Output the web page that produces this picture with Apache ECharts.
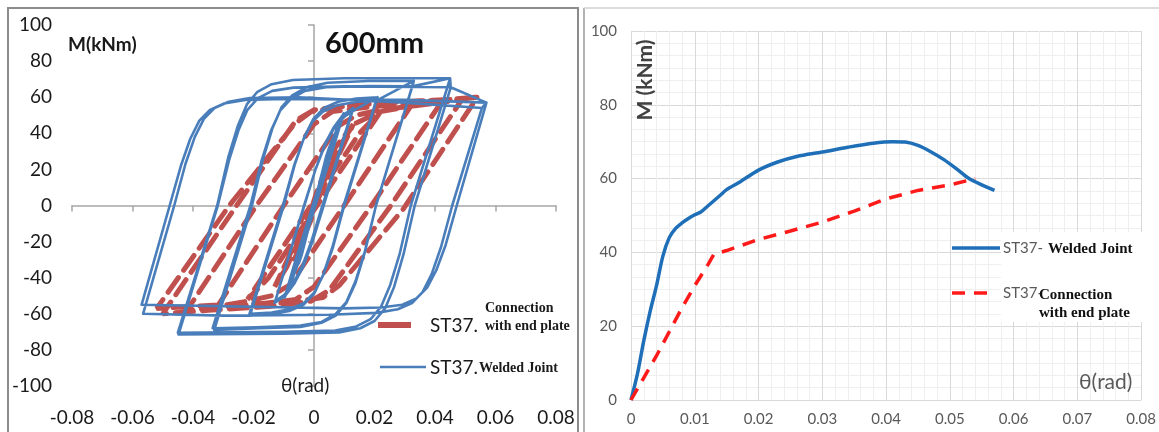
<!DOCTYPE html>
<html><head><meta charset="utf-8">
<script src="https://cdn.jsdelivr.net/npm/echarts@6/dist/echarts.min.js"></script>
<style>html,body{margin:0;padding:0;background:#fff}#c{width:1159px;height:432px}</style>
</head><body><div id="c"></div>
<script>
// ---------- tick values ----------
const leftThetaTicks = [-0.08,-0.06,-0.04,-0.02,0,0.02,0.04,0.06,0.08];
const leftMomentTicks = [-100,-80,-60,-40,-20,0,20,40,60,80,100];
const rightThetaTicks = [0,0.01,0.02,0.03,0.04,0.05,0.06,0.07,0.08];
const rightMomentTicks = [0,20,40,60,80,100];

// ---------- left panel: hysteresis, ST37 connection with end plate (red dashed) ----------
const plateCycle1 = [[0,0],[0.007,32],[0.001,8],[-0.005,-24],[-0.007,-32],[-0.001,-8],[0.005,24],[0.007,32]];
const plateCycle2 = [[0.013,45],[0.002,6],[-0.009,-34],[-0.013,-45],[-0.002,-6],[0.009,34],[0.013,45]];
const plateCycle3 = [[0.022,52],[0.001,0],[-0.015,-40],[-0.019,-47],[-0.022,-52],[-0.001,0],[0.015,40],[0.019,47],[0.022,52]];
const plateCycle4 = [[0.032,55],[0.010,0],[-0.008,-44],[-0.014,-50],[-0.022,-53],[-0.032,-56],[-0.010,0],[0.008,44],[0.014,50],[0.022,53],[0.032,55]];
const plateCycle5 = [[0.042,57],[0.019,0],[0.0,-45],[-0.006,-52],[-0.02,-55],[-0.042,-58],[-0.019,0],[0.0,45],[0.006,52],[0.02,55],[0.042,57]];
const plateCycle6 = [[0.049,59],[0.025,-1],[0.005,-47],[-0.001,-53],[-0.015,-56],[-0.035,-58],[-0.05,-60],[-0.026,-1],[-0.006,47],[0.0,53],[0.015,56],[0.035,58],[0.049,59]];
const plateCycle7 = [[0.054,60],[0.0295,-2],[0.0085,-44],[0.003,-51],[-0.01,-54],[-0.03,-55],[-0.052,-57],[-0.028,0],[-0.0065,45],[-0.001,52],[0.01,55],[0.03,57],[0.054,60]];

// ---------- left panel: hysteresis, ST37 welded joint (blue) ----------
const weldCycle1 = [[0,0],[0.003,20],[0.0015,9],[-0.0025,-17],[-0.003,-20],[-0.0015,-9],[0.0025,17],[0.003,20]];
const weldCycle2 = [[0.005,32],[0.003,19],[-0.004,-27],[-0.005,-32],[-0.003,-19],[0.004,27],[0.005,32]];
const weldCycle2b = [[0.0062,37],[0.0038,22],[-0.0052,-32],[-0.0063,-37],[-0.0039,-22],[0.0051,32],[0.0062,37]];
const weldCycle3 = [[0.0075,42],[0.0048,26],[-0.0065,-37],[-0.0075,-42],[-0.0048,-26],[0.0065,37],[0.0075,42]];
const weldCycle3b = [[0.0082,45],[0.0052,28],[-0.007,-40],[-0.0083,-45],[-0.0053,-28],[0.007,40],[0.0082,45]];
const weldCycle4 = [[0.0095,50],[0.0062,32],[-0.008,-44],[-0.0095,-50],[-0.0062,-32],[0.008,44],[0.0095,50]];
const weldCycle5 = [[0.0092,48],[0.0058,30],[-0.0083,-45],[-0.0093,-49],[-0.0058,-30],[0.0083,44],[0.0092,48]];
const weldCycle5b = [[0.0098,51],[0.0066,33],[-0.0075,-43],[-0.0097,-51],[-0.0066,-33],[0.0076,43],[0.0098,51]];
const weldCycle5c = [[0.0088,47],[0.0055,29],[-0.0077,-42],[-0.0089,-48],[-0.0056,-29],[0.0078,42],[0.0088,47]];
const weldCycle6 = [[0.013,54],[0.0032,0],[-0.0005,-20],[-0.0036,-34],[-0.0066,-43.5],[-0.0095,-50],[-0.013,-54],[-0.0032,0],[0.0005,20],[0.0036,34],[0.0066,43.5],[0.0095,50],[0.013,54]];
const weldCycle7 = [[0.0125,52],[0.0028,0],[-0.0009,-20],[-0.004,-34],[-0.007,-43.5],[-0.0098,-49.5],[-0.0128,-53],[-0.0033,0],[0.0004,19.5],[0.0035,33],[0.0065,42.5],[0.0094,48.5],[0.0125,52]];
const weldCycle8 = [[0.021,60],[0.010,0],[0.0063,-23],[0.0032,-38],[0.0002,-48],[-0.0033,-54],[-0.008,-57.5],[-0.014,-59.3],[-0.021,-60],[-0.010,0],[-0.0063,23],[-0.0032,38],[-0.0002,48],[0.0033,54],[0.008,57.5],[0.014,59.3],[0.021,60]];
const weldCycle9 = [[0.0205,58],[0.0098,0],[0.0061,-23],[0.003,-38.5],[0,-49],[-0.0035,-55],[-0.0082,-58.5],[-0.0142,-60.3],[-0.0215,-61],[-0.0103,0],[-0.0066,22],[-0.0035,36.5],[-0.0005,46.5],[0.003,52],[0.0077,55.5],[0.0137,57.3],[0.0205,58]];
const weldCycle10 = [[0.033,69],[0.0205,0],[0.0168,-26],[0.0137,-43],[0.0107,-54],[0.0072,-61],[0.0025,-65],[-0.0045,-67.3],[-0.018,-68],[-0.033,-69],[-0.0205,0],[-0.0168,26],[-0.0137,43],[-0.0107,54.5],[-0.0072,61],[-0.0025,65.5],[0.0045,68],[0.018,69],[0.033,69]];
const weldCycle11 = [[0.0325,66],[0.0205,0],[0.0168,-25.5],[0.0137,-42],[0.0107,-53.5],[0.0072,-60],[0.0025,-64.5],[-0.0045,-66.5],[-0.019,-67.5],[-0.0335,-68],[-0.021,0],[-0.0173,25],[-0.0142,41.5],[-0.0112,52.5],[-0.0077,59],[-0.003,63.5],[0.004,65.5],[0.018,66.2],[0.0325,66]];
const weldCycle12 = [[0.045,70.5],[0.032,0],[0.0283,-27],[0.0252,-44],[0.0222,-56],[0.0187,-63],[0.014,-67],[0.007,-69.3],[-0.01,-70],[-0.045,-70.5],[-0.032,0],[-0.0283,27],[-0.0252,44],[-0.0222,56],[-0.0187,63],[-0.014,67.2],[-0.007,69.5],[0.01,70.5],[0.045,70.5]];
const weldCycle13 = [[0.0452,65.5],[0.0333,0],[0.0296,-27],[0.0265,-45],[0.0235,-57],[0.02,-64],[0.0153,-68],[0.0083,-70.3],[-0.01,-71],[-0.0448,-71.5],[-0.0318,0],[-0.0281,25],[-0.025,41.5],[-0.022,53],[-0.0185,59.5],[-0.0138,63.5],[-0.0068,65.3],[0.01,66],[0.0452,65.5]];
const weldCycle14 = [[0.057,57],[0.0472,0],[0.0435,-22],[0.0404,-36],[0.0374,-45.5],[0.0339,-51.5],[0.0292,-55],[0.0222,-56.5],[0.01,-57],[-0.057,-55],[-0.0477,0],[-0.044,22],[-0.0409,37],[-0.0379,47],[-0.0344,53],[-0.0297,56.5],[-0.0227,58.5],[-0.01,59],[0.03,58.5],[0.057,57]];
const weldCycle15 = [[0.0555,54],[0.0457,0],[0.042,-23],[0.0389,-38],[0.0359,-48],[0.0324,-54],[0.0277,-57.5],[0.0207,-59.5],[0.005,-60.5],[-0.03,-61],[-0.0565,-60],[-0.0462,0],[-0.0425,23],[-0.0394,38],[-0.0364,48],[-0.0329,54],[-0.0282,57.5],[-0.0212,59.5],[-0.005,60],[0.03,57],[0.0555,54]];

// ---------- right panel: envelope curves ----------
const weldTheta  = [0,0.001,0.002,0.003,0.004,0.005,0.006,0.007,0.008,0.009,0.010,0.011,0.012,0.013,0.014,0.015,0.017,0.020,0.023,0.026,0.030,0.034,0.038,0.041,0.043,0.045,0.047,0.049,0.051,0.053,0.055,0.057];
const weldMoment = [0,7,16,24,31,39,44,46.5,48,49.2,50.2,51,52.5,54,55.5,57,59,62.3,64.5,66,67.2,68.5,69.6,70,69.9,69,67.3,65.2,62.7,60,58.3,56.8];
const plateTheta  = [0,0.002,0.004,0.006,0.008,0.010,0.012,0.013,0.015,0.020,0.025,0.030,0.035,0.040,0.045,0.050,0.054];
const plateMoment = [0,6,12,18.5,25,31,36.5,39.5,40.5,43.5,45.8,48.2,51.2,54.5,56.8,58.3,60];

const plateLoops = [].concat(plateCycle1,plateCycle2,plateCycle3,plateCycle4,plateCycle5,plateCycle6,plateCycle7);
const weldLoops = [].concat(weldCycle1,weldCycle2,weldCycle2b,weldCycle3,weldCycle3b,weldCycle4,weldCycle5,weldCycle5b,weldCycle5c,weldCycle6,weldCycle7,weldCycle8,weldCycle9,weldCycle10,weldCycle11,weldCycle12,weldCycle13,weldCycle14,weldCycle15);
const weldEnvelope = weldTheta.map((t,i)=>[t,weldMoment[i]]);
const plateEnvelope = plateTheta.map((t,i)=>[t,plateMoment[i]]);

const FONT = 'Lato, "Liberation Sans", sans-serif';
const SERIF = '"Liberation Serif", "DejaVu Serif", serif';

function rng(t){return {min:t[0],max:t[t.length-1],interval:+(t[1]-t[0]).toFixed(6)};}

const chart = echarts.init(document.getElementById('c'), null, {renderer:'canvas'});
chart.setOption({
  animation:false,
  backgroundColor:'#fff',
  grid:[
    {left:72, top:25, width:484, height:361},
    {left:631, top:31, width:514, height:369}
  ],
  xAxis:[
    Object.assign({gridIndex:0,type:'value',position:'bottom',
      axisLine:{show:false,onZero:false},axisTick:{show:false},splitLine:{show:false},
      axisLabel:{fontSize:19,color:'#1a1a1a',margin:22,fontFamily:FONT}}, rng(leftThetaTicks)),
    Object.assign({gridIndex:0,type:'value',position:'bottom',
      axisLine:{show:true,onZero:true,lineStyle:{color:'#a6a6a6',width:1.5}},
      axisTick:{show:true,length:6,lineStyle:{color:'#a6a6a6',width:1.5}},
      splitLine:{show:false},axisLabel:{show:false}}, rng(leftThetaTicks)),
    Object.assign({gridIndex:1,type:'value',position:'bottom',
      axisLine:{show:false,onZero:false},axisTick:{show:false},
      splitLine:{show:true,lineStyle:{color:'#d9d9d9',width:1}},
      minorTick:{show:false,splitNumber:5},
      minorSplitLine:{show:true,lineStyle:{color:'#efefef',width:1}},
      axisLabel:{fontSize:15,color:'#595959',margin:12,fontFamily:FONT}}, rng(rightThetaTicks))
  ],
  yAxis:[
    Object.assign({gridIndex:0,type:'value',position:'left',
      axisLine:{show:false,onZero:false},axisTick:{show:false},splitLine:{show:false},
      axisLabel:{fontSize:19,color:'#1a1a1a',margin:20,fontFamily:FONT}}, rng(leftMomentTicks)),
    Object.assign({gridIndex:0,type:'value',position:'left',
      axisLine:{show:true,onZero:true,lineStyle:{color:'#a6a6a6',width:1.5}},
      axisTick:{show:true,length:6,lineStyle:{color:'#a6a6a6',width:1.5}},
      splitLine:{show:false},axisLabel:{show:false}}, rng(leftMomentTicks)),
    Object.assign({gridIndex:1,type:'value',position:'left',
      axisLine:{show:false,onZero:false},axisTick:{show:false},
      splitLine:{show:true,lineStyle:{color:'#d9d9d9',width:1}},
      minorTick:{show:false,splitNumber:6},
      minorSplitLine:{show:true,lineStyle:{color:'#efefef',width:1}},
      axisLabel:{fontSize:15,color:'#595959',margin:14,fontFamily:FONT}}, rng(rightMomentTicks))
  ],
  series:[
    {name:'ST37- Connection with end plate',type:'line',xAxisIndex:0,yAxisIndex:0,data:plateLoops,
      symbol:'none',lineStyle:{color:'#c0504d',width:5,type:[18,9],cap:'round'},z:2},
    {name:'ST37- Welded Joint',type:'line',xAxisIndex:0,yAxisIndex:0,data:weldLoops,
      symbol:'none',lineStyle:{color:'#4a7ebb',width:2.6,join:'round'},z:3},
    {name:'ST37- Welded Joint (envelope)',type:'line',xAxisIndex:2,yAxisIndex:2,data:weldEnvelope,
      symbol:'none',smooth:0.3,lineStyle:{color:'#1f6fb8',width:3.5},z:3},
    {name:'ST37- Connection with end plate (envelope)',type:'line',xAxisIndex:2,yAxisIndex:2,data:plateEnvelope,
      symbol:'none',lineStyle:{color:'#ff1a1a',width:3.5,type:[13,9]},z:3}
  ],
  graphic:[
    {type:'rect',shape:{x:8,y:8,width:570,height:440},style:{fill:'none',stroke:'#8c8c8c',lineWidth:2},z:20},
    {type:'line',shape:{x1:584,y1:8,x2:584,y2:432},style:{stroke:'#9a9a9a',lineWidth:1.5},z:20},
    {type:'line',shape:{x1:584,y1:8,x2:1159,y2:8},style:{stroke:'#d0d0d0',lineWidth:1.5},z:20},
    // left panel texts
    {type:'text',x:68,y:45,style:{text:'M(kNm)',font:'bold 19px '+FONT,fill:'#1a1a1a',textVerticalAlign:'middle'},z:20},
    {type:'text',x:325,y:44,style:{text:'600mm',font:'bold 29px '+FONT,fill:'#111',textVerticalAlign:'middle'},z:20},
    {type:'text',x:281,y:386,style:{text:'θ(rad)',font:'19px '+FONT,fill:'#1a1a1a',textVerticalAlign:'middle'},z:20},
    // left legend
    {type:'line',shape:{x1:378,y1:325,x2:411,y2:325},style:{stroke:'#c0504d',lineWidth:6},z:20},
    {type:'text',x:430,y:326,style:{text:'ST37.',font:'19px '+FONT,fill:'#1a1a1a',textVerticalAlign:'middle'},z:20},
    {type:'text',x:485,y:308,style:{text:'Connection',font:'bold 14px '+SERIF,fill:'#1a1a1a',textVerticalAlign:'middle'},z:20},
    {type:'text',x:485,y:326,style:{text:'with end plate',font:'bold 14px '+SERIF,fill:'#1a1a1a',textVerticalAlign:'middle'},z:20},
    {type:'line',shape:{x1:380,y1:367,x2:426,y2:367},style:{stroke:'#4a7ebb',lineWidth:2.5},z:20},
    {type:'text',x:430,y:368,style:{text:'ST37.',font:'19px '+FONT,fill:'#1a1a1a',textVerticalAlign:'middle'},z:20},
    {type:'text',x:479,y:368,style:{text:'Welded Joint',font:'bold 14px '+SERIF,fill:'#1a1a1a',textVerticalAlign:'middle'},z:20},
    // right panel texts
    {type:'text',x:645,y:80,rotation:Math.PI/2,style:{text:'M (kNm)',font:'bold 21px '+FONT,fill:'#404040',textAlign:'center',textVerticalAlign:'middle'},z:20},
    {type:'text',x:1079,y:382,style:{text:'θ(rad)',font:'21px '+FONT,fill:'#595959',textVerticalAlign:'middle'},z:20},
    // right legend
    {type:'rect',shape:{x:1001,y:232,width:144,height:90},style:{fill:'#fff'},z:15},
    {type:'line',shape:{x1:952,y1:248,x2:1000,y2:248},style:{stroke:'#1f6fb8',lineWidth:3.5},z:20},
    {type:'text',x:1003,y:248,style:{text:'ST37-',font:'15px '+FONT,fill:'#595959',textVerticalAlign:'middle'},z:20},
    {type:'text',x:1048,y:249,style:{text:'Welded Joint',font:'bold 15px '+SERIF,fill:'#111',textVerticalAlign:'middle'},z:20},
    {type:'line',shape:{x1:952,y1:293,x2:990,y2:293},style:{stroke:'#ff1a1a',lineWidth:3.5,lineDash:[13,9]},z:20},
    {type:'text',x:1003,y:293,style:{text:'ST37-',font:'15px '+FONT,fill:'#595959',textVerticalAlign:'middle'},z:20},
    {type:'text',x:1039,y:295,style:{text:'Connection',font:'bold 15px '+SERIF,fill:'#111',textVerticalAlign:'middle'},z:20},
    {type:'text',x:1039,y:313,style:{text:'with end plate',font:'bold 15px '+SERIF,fill:'#111',textVerticalAlign:'middle'},z:20}
  ]
});
</script></body></html>
